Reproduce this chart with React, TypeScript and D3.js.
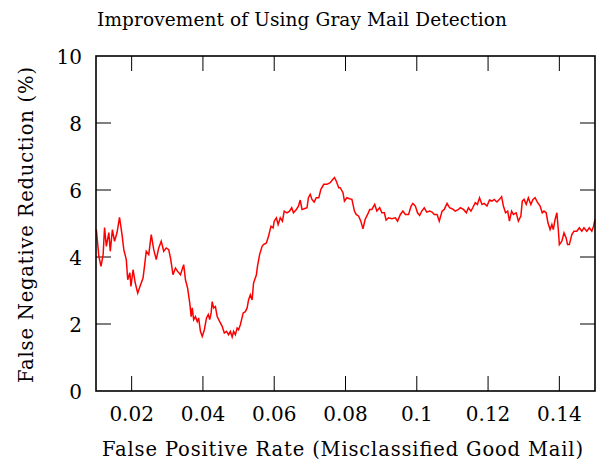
import { useMemo } from "react";
import * as d3 from "d3";

// false positive rate (x) and false negative reduction in % (y)
const fpr = [
  0.0101, 0.0108, 0.0114, 0.012, 0.0124, 0.0129, 0.0136, 0.014, 0.0146, 0.0152,
  0.0159, 0.0166, 0.0173, 0.0178, 0.0185, 0.0189, 0.0195, 0.0198, 0.0204, 0.021,
  0.0217, 0.0225, 0.0232, 0.0236, 0.0241, 0.0248, 0.0255, 0.0262, 0.0269, 0.0276,
  0.0283, 0.029, 0.0297, 0.0304, 0.0309, 0.0316, 0.0323, 0.0329, 0.0337, 0.0346,
  0.0351, 0.0357, 0.0363, 0.0367, 0.037, 0.0374, 0.0379, 0.0384, 0.0388, 0.0393,
  0.0398, 0.0404, 0.041, 0.0415, 0.0419, 0.0423, 0.0426, 0.043, 0.0435, 0.044,
  0.0447, 0.0454, 0.046, 0.0466, 0.0472, 0.0477, 0.0482, 0.0486, 0.0491, 0.0496,
  0.05, 0.0505, 0.0513, 0.0519, 0.0524, 0.0528, 0.0533, 0.0538, 0.0542, 0.055,
  0.0553, 0.0559, 0.0566, 0.057, 0.0578, 0.0584, 0.0591, 0.0597, 0.06, 0.0606,
  0.0611, 0.0617, 0.0623, 0.0628, 0.0636, 0.0643, 0.0649, 0.0654, 0.0662, 0.0668,
  0.0673, 0.0678, 0.0684, 0.0692, 0.0696, 0.0701, 0.0706, 0.0712, 0.0718, 0.0725,
  0.0731, 0.0739, 0.0748, 0.0757, 0.0763, 0.0769, 0.0774, 0.0781, 0.0785, 0.0793,
  0.0797, 0.0804, 0.0811, 0.0818, 0.0825, 0.083, 0.0837, 0.0843, 0.0849, 0.0855,
  0.0862, 0.0868, 0.0874, 0.0882, 0.0888, 0.0896, 0.0902, 0.0909, 0.0914, 0.0921,
  0.093, 0.094, 0.0946, 0.0954, 0.0961, 0.0968, 0.0977, 0.0984, 0.0989, 0.0996,
  0.1002, 0.1008, 0.1014, 0.1021, 0.1028, 0.1036, 0.1043, 0.1049, 0.1057, 0.1063,
  0.1071, 0.1077, 0.1085, 0.1092, 0.1099, 0.1108, 0.1117, 0.1122, 0.1131, 0.1139,
  0.1145, 0.1152, 0.1157, 0.1164, 0.117, 0.1176, 0.1183, 0.1189, 0.1197, 0.1204,
  0.1211, 0.1217, 0.1225, 0.1232, 0.1238, 0.1243, 0.1249, 0.1255, 0.126, 0.1266,
  0.1271, 0.1279, 0.1285, 0.1292, 0.1296, 0.1301, 0.1307, 0.1313, 0.132, 0.1326,
  0.1332, 0.1339, 0.1346, 0.1352, 0.1357, 0.1363, 0.1368, 0.1374, 0.1379, 0.1383,
  0.1388, 0.1393, 0.1397, 0.14, 0.1407, 0.1413, 0.1419, 0.1423, 0.1428, 0.1435,
  0.1441, 0.1449, 0.1456, 0.1463, 0.1469, 0.1477, 0.1484, 0.1491, 0.1496, 0.15,
];
const reduction = [
  4.82, 4.02, 3.72, 4.07, 4.88, 4.32, 4.73, 4.17, 4.82, 4.47,
  4.73, 5.18, 4.67, 4.22, 3.92, 3.32, 3.53, 3.12, 3.62, 3.23,
  2.92, 3.17, 3.37, 3.72, 4.17, 4.07, 4.67, 4.22, 3.92, 4.27,
  4.47, 4.17, 4.27, 4.22, 3.97, 3.47, 3.67, 3.57, 3.47, 3.77,
  3.32, 3.07, 2.63, 2.22, 2.48, 2.13, 2.22, 2.07, 2.18, 1.78,
  1.63, 1.83, 2.18, 2.28, 2.13, 2.33, 2.67, 2.48, 2.52, 2.22,
  2.07, 1.93, 1.73, 1.78, 1.68, 1.78, 1.61, 1.78, 1.68, 1.88,
  1.83, 1.98, 2.33, 2.37, 2.48, 2.72, 2.87, 2.72, 3.22, 3.47,
  3.72, 4.07, 4.32, 4.37, 4.42, 4.62, 4.92, 4.87, 5.07, 5.17,
  4.97, 5.17, 5.07, 5.37, 5.32, 5.37, 5.47, 5.32, 5.42, 5.52,
  5.7, 5.42, 5.44, 5.47, 5.77, 5.87, 5.72, 5.64, 5.77, 5.77,
  6.02, 6.17, 6.17, 6.22, 6.3, 6.37, 6.27, 6.07, 6.07, 5.92,
  5.67, 5.77, 5.74, 5.72, 5.37, 5.27, 5.22, 5.07, 4.84, 5.12,
  5.27, 5.42, 5.42, 5.57, 5.37, 5.47, 5.32, 5.32, 5.1, 5.17,
  5.14, 5.17, 5.07, 5.27, 5.37, 5.27, 5.27, 5.52, 5.6, 5.52,
  5.32, 5.24, 5.37, 5.47, 5.34, 5.37, 5.34, 5.27, 5.27, 5.07,
  5.37, 5.42, 5.6, 5.47, 5.44, 5.37, 5.42, 5.47, 5.42, 5.32,
  5.47, 5.37, 5.47, 5.62, 5.57, 5.77, 5.57, 5.6, 5.52, 5.7,
  5.67, 5.72, 5.64, 5.72, 5.8, 5.52, 5.32, 5.37, 5.07, 5.37,
  5.27, 5.32, 5.07, 5.22, 5.67, 5.72, 5.57, 5.77, 5.57, 5.72,
  5.77, 5.62, 5.52, 5.32, 5.37, 5.32, 5.02, 4.82, 4.97, 4.82,
  5.12, 5.32, 4.82, 4.37, 4.47, 4.72, 4.57, 4.37, 4.37, 4.67,
  4.77, 4.77, 4.87, 4.77, 4.87, 4.77, 4.87, 4.77, 4.92, 5.12,
];

const xTicks = [0.02, 0.04, 0.06, 0.08, 0.1, 0.12, 0.14];
const yTicks = [0, 2, 4, 6, 8, 10];

const W = 596;
const H = 462;
const margin = { top: 56, right: 1, bottom: 71, left: 96 };
const font = "'DejaVu Serif', 'Liberation Serif', serif";

export default function App() {
  const x = d3.scaleLinear().domain([0.01, 0.15]).range([margin.left, W - margin.right]);
  const y = d3.scaleLinear().domain([0, 10]).range([H - margin.bottom, margin.top]);

  const path = useMemo(() => {
    const line = d3
      .line<number>()
      .x((_, i) => x(fpr[i]))
      .y((d) => y(d));
    return line(reduction) ?? "";
  }, []);

  const x0 = margin.left;
  const x1 = W - margin.right;
  const y0 = H - margin.bottom;
  const y1 = margin.top;
  const tick = 15;

  return (
    <svg
      width={W}
      height={H}
      style={{ position: "fixed", left: 0, top: 0, background: "#fff" }}
      fontFamily={font}
    >
      <text x={302} y={26} fontSize={18.5} textAnchor="middle" fill="#000" textLength={410} lengthAdjust="spacing">
        Improvement of Using Gray Mail Detection
      </text>

      {/* ticks, mirrored on all four sides */}
      {xTicks.map((t) => (
        <g key={"x" + t} stroke="#000" strokeWidth={1}>
          <line x1={x(t)} x2={x(t)} y1={y0} y2={y0 - tick} />
          <line x1={x(t)} x2={x(t)} y1={y1} y2={y1 + tick} />
        </g>
      ))}
      {yTicks.slice(1, -1).map((t) => (
        <g key={"y" + t} stroke="#000" strokeWidth={1}>
          <line x1={x0} x2={x0 + tick} y1={y(t)} y2={y(t)} />
          <line x1={x1} x2={x1 - tick} y1={y(t)} y2={y(t)} />
        </g>
      ))}

      <path d={path} fill="none" stroke="#ff0000" strokeWidth={1.5} strokeLinejoin="miter" />

      <rect x={x0} y={y1} width={x1 - x0} height={y0 - y1} fill="none" stroke="#000" strokeWidth={1.6} />

      {xTicks.map((t) => (
        <text key={"xl" + t} x={x(t)} y={421} fontSize={20} textAnchor="middle" fill="#000">
          {t}
        </text>
      ))}
      {yTicks.map((t) => (
        <text key={"yl" + t} x={82} y={y(t) + 7.5} fontSize={20} textAnchor="end" fill="#000">
          {t}
        </text>
      ))}

      <text x={342.5} y={456} fontSize={19.5} textAnchor="middle" fill="#000" textLength={481} lengthAdjust="spacing">
        False Positive Rate (Misclassified Good Mail)
      </text>
      <text
        transform={`translate(33, 225) rotate(-90)`}
        fontSize={19.5}
        textAnchor="middle"
        fill="#000"
        textLength={316}
        lengthAdjust="spacing"
      >
        False Negative Reduction (%)
      </text>
    </svg>
  );
}
